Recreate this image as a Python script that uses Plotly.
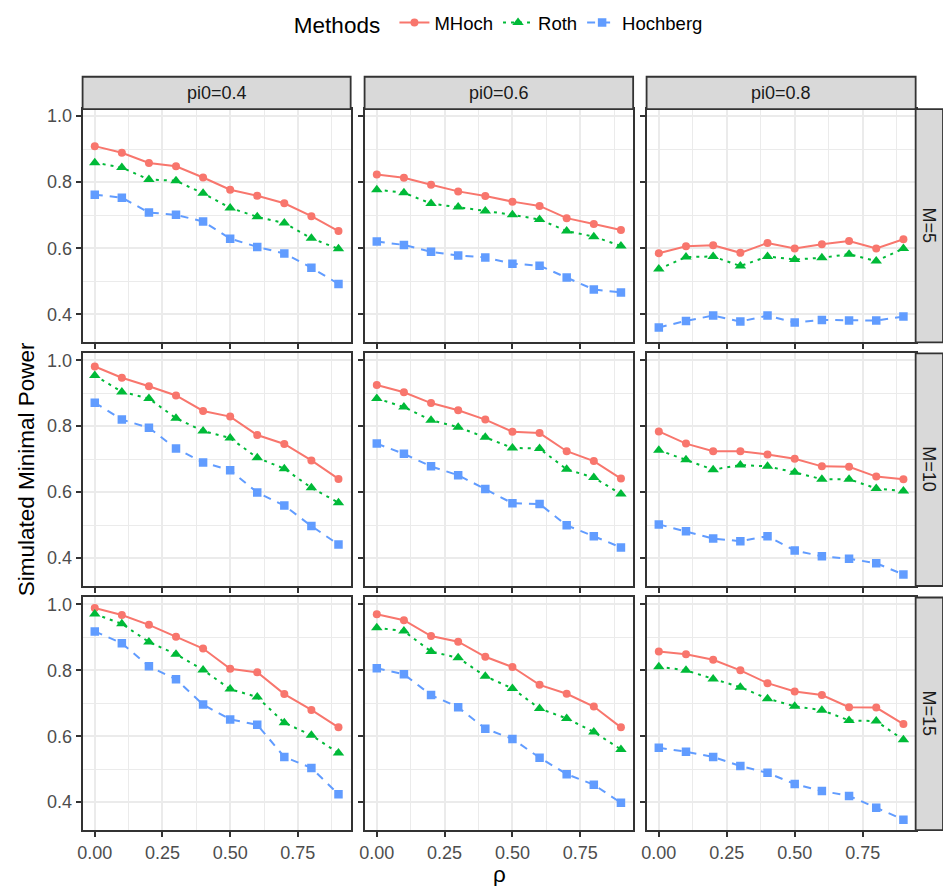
import plotly.graph_objects as go

# ---- data -----------------------------------------------------------------
rho = [0.0, 0.1, 0.2, 0.3, 0.4, 0.5, 0.6, 0.7, 0.8, 0.9]
pi0_labels = ["pi0=0.4", "pi0=0.6", "pi0=0.8"]
m_labels = ["M=5", "M=10", "M=15"]
methods = ["MHoch", "Roth", "Hochberg"]

# M = 5
mhoch_m5_p04 = [0.909, 0.889, 0.858, 0.848, 0.814, 0.777, 0.759, 0.736, 0.697, 0.652]
roth_m5_p04 = [0.859, 0.844, 0.808, 0.804, 0.766, 0.722, 0.695, 0.676, 0.630, 0.598]
hoch_m5_p04 = [0.762, 0.753, 0.708, 0.701, 0.681, 0.629, 0.604, 0.584, 0.541, 0.492]
mhoch_m5_p06 = [0.823, 0.813, 0.792, 0.772, 0.758, 0.741, 0.728, 0.691, 0.673, 0.655]
roth_m5_p06 = [0.777, 0.768, 0.735, 0.725, 0.713, 0.701, 0.687, 0.652, 0.635, 0.607]
hoch_m5_p06 = [0.620, 0.610, 0.589, 0.578, 0.572, 0.553, 0.547, 0.511, 0.475, 0.466]
mhoch_m5_p08 = [0.585, 0.606, 0.609, 0.586, 0.616, 0.599, 0.612, 0.622, 0.599, 0.627]
roth_m5_p08 = [0.537, 0.573, 0.575, 0.546, 0.575, 0.566, 0.571, 0.582, 0.561, 0.599]
hoch_m5_p08 = [0.360, 0.380, 0.396, 0.378, 0.396, 0.375, 0.383, 0.381, 0.381, 0.393]

# M = 10
mhoch_m10_p04 = [0.981, 0.947, 0.921, 0.893, 0.846, 0.829, 0.773, 0.746, 0.696, 0.640]
roth_m10_p04 = [0.954, 0.904, 0.884, 0.824, 0.785, 0.764, 0.704, 0.671, 0.613, 0.568]
hoch_m10_p04 = [0.871, 0.820, 0.795, 0.732, 0.690, 0.666, 0.599, 0.559, 0.497, 0.441]
mhoch_m10_p06 = [0.925, 0.903, 0.870, 0.848, 0.820, 0.783, 0.779, 0.724, 0.694, 0.641]
roth_m10_p06 = [0.884, 0.858, 0.818, 0.797, 0.766, 0.734, 0.732, 0.669, 0.644, 0.594]
hoch_m10_p06 = [0.747, 0.716, 0.678, 0.651, 0.609, 0.566, 0.564, 0.499, 0.466, 0.432]
mhoch_m10_p08 = [0.784, 0.747, 0.724, 0.724, 0.714, 0.701, 0.678, 0.677, 0.647, 0.639]
roth_m10_p08 = [0.727, 0.698, 0.668, 0.682, 0.678, 0.660, 0.639, 0.639, 0.611, 0.603]
hoch_m10_p08 = [0.502, 0.481, 0.459, 0.451, 0.466, 0.423, 0.405, 0.398, 0.384, 0.350]

# M = 15
mhoch_m15_p04 = [0.989, 0.968, 0.938, 0.902, 0.866, 0.805, 0.794, 0.728, 0.680, 0.627]
roth_m15_p04 = [0.971, 0.941, 0.886, 0.849, 0.801, 0.743, 0.719, 0.641, 0.603, 0.549]
hoch_m15_p04 = [0.918, 0.882, 0.812, 0.773, 0.696, 0.651, 0.635, 0.537, 0.504, 0.424]
mhoch_m15_p06 = [0.970, 0.952, 0.904, 0.887, 0.841, 0.810, 0.756, 0.729, 0.690, 0.627]
roth_m15_p06 = [0.929, 0.919, 0.857, 0.838, 0.782, 0.745, 0.684, 0.654, 0.613, 0.560]
hoch_m15_p06 = [0.806, 0.788, 0.725, 0.688, 0.623, 0.592, 0.535, 0.485, 0.453, 0.398]
mhoch_m15_p08 = [0.857, 0.849, 0.832, 0.800, 0.761, 0.736, 0.725, 0.688, 0.687, 0.637]
roth_m15_p08 = [0.811, 0.800, 0.774, 0.749, 0.714, 0.691, 0.679, 0.648, 0.646, 0.589]
hoch_m15_p08 = [0.565, 0.553, 0.537, 0.510, 0.489, 0.455, 0.434, 0.419, 0.383, 0.347]

panels = [
    [(mhoch_m5_p04, roth_m5_p04, hoch_m5_p04),
     (mhoch_m5_p06, roth_m5_p06, hoch_m5_p06),
     (mhoch_m5_p08, roth_m5_p08, hoch_m5_p08)],
    [(mhoch_m10_p04, roth_m10_p04, hoch_m10_p04),
     (mhoch_m10_p06, roth_m10_p06, hoch_m10_p06),
     (mhoch_m10_p08, roth_m10_p08, hoch_m10_p08)],
    [(mhoch_m15_p04, roth_m15_p04, hoch_m15_p04),
     (mhoch_m15_p06, roth_m15_p06, hoch_m15_p06),
     (mhoch_m15_p08, roth_m15_p08, hoch_m15_p08)],
]

# ---- styling ----------------------------------------------------------------
W, H = 943, 886
FONT = "Liberation Sans, Arial, Helvetica, sans-serif"
colors = ["#F8766D", "#00BA38", "#619CFF"]
dashes = ["solid", "3px,5px", "8px,7px"]
symbols = ["circle", "triangle-up", "square"]
msizes = [8, 10, 8.5]
TICK_SIZE = 18
TITLE_SIZE = 22.5

col_px = [(78, 347.5), (361.5, 631.5), (645, 915.5)]
row_px = [(106.5, 340.5), (351.5, 585), (596.5, 830)]
strip_top = (74, 106.5)
strip_right = (915.5, 943)

def px_x(v):
    return v / W

def px_y(v):
    return 1 - v / H

fig = go.Figure()
layout = {}

for r in range(3):
    for c in range(3):
        k = r * 3 + c + 1
        xname = "x" if k == 1 else f"x{k}"
        yname = "y" if k == 1 else f"y{k}"
        for mi, series in enumerate(panels[r][c]):
            fig.add_trace(go.Scatter(
                x=rho, y=series, xaxis=xname, yaxis=yname,
                mode="lines+markers", name=methods[mi],
                legendgroup=methods[mi], showlegend=(k == 1),
                line=dict(color=colors[mi], width=2, dash=dashes[mi]),
                marker=dict(symbol=symbols[mi], size=msizes[mi],
                            color=colors[mi], line=dict(width=0)),
            ))
        axis_common = dict(
            showline=True, mirror=True, linecolor="#333333", linewidth=1.8,
            showgrid=True, gridcolor="#EBEBEB", gridwidth=2, zeroline=False,
            ticks="outside", ticklen=5, tickcolor="#333333", tickwidth=1.5,
            tickfont=dict(family=FONT, size=TICK_SIZE, color="#4D4D4D"),
        )
        x0, x1 = col_px[c]
        y0, y1 = row_px[r]
        layout["xaxis" if k == 1 else f"xaxis{k}"] = dict(
            axis_common, domain=[px_x(x0), px_x(x1)], anchor=yname,
            range=[-0.045, 0.945], tick0=0, dtick=0.25, tickformat=".2f",
            showticklabels=(r == 2),
            minor=dict(showgrid=True, gridcolor="#EBEBEB", gridwidth=1,
                       tick0=0, dtick=0.125, ticks=""),
        )
        layout["yaxis" if k == 1 else f"yaxis{k}"] = dict(
            axis_common, domain=[px_y(y1), px_y(y0)], anchor=xname,
            range=[0.315, 1.021], tick0=0, dtick=0.2, tickformat=".1f",
            showticklabels=(c == 0),
            minor=dict(showgrid=True, gridcolor="#EBEBEB", gridwidth=1,
                       tick0=0, dtick=0.1, ticks=""),
        )

shapes = []
annotations = []
strip_font = dict(family=FONT, size=TICK_SIZE, color="#1A1A1A")
for c, lab in enumerate(pi0_labels):
    x0, x1 = col_px[c]
    shapes.append(dict(type="rect", xref="paper", yref="paper",
                       x0=px_x(x0), x1=px_x(x1),
                       y0=px_y(strip_top[1]), y1=px_y(strip_top[0]),
                       fillcolor="#D9D9D9", line=dict(color="#333333", width=1.8)))
    annotations.append(dict(text=lab, xref="paper", yref="paper",
                            x=px_x((x0 + x1) / 2), y=px_y(sum(strip_top) / 2),
                            showarrow=False, font=strip_font,
                            xanchor="center", yanchor="middle"))
for r, lab in enumerate(m_labels):
    y0, y1 = row_px[r]
    shapes.append(dict(type="rect", xref="paper", yref="paper",
                       x0=px_x(strip_right[0]), x1=px_x(strip_right[1]),
                       y0=px_y(y1), y1=px_y(y0),
                       fillcolor="#D9D9D9", line=dict(color="#333333", width=1.8)))
    annotations.append(dict(text=lab, xref="paper", yref="paper",
                            x=px_x(sum(strip_right) / 2), y=px_y((y0 + y1) / 2),
                            showarrow=False, font=strip_font, textangle=90,
                            xanchor="center", yanchor="middle"))

# axis titles
annotations.append(dict(text="Simulated Minimal Power", xref="paper", yref="paper",
                        x=px_x(22), y=px_y(468), showarrow=False, textangle=-90,
                        font=dict(family=FONT, size=TITLE_SIZE, color="black"),
                        xanchor="center", yanchor="middle"))
annotations.append(dict(text="ρ", xref="paper", yref="paper",
                        x=px_x(497), y=px_y(874), showarrow=False,
                        font=dict(family=FONT, size=TITLE_SIZE, color="black"),
                        xanchor="center", yanchor="middle"))

fig.update_layout(
    width=W, height=H,
    margin=dict(l=0, r=0, t=0, b=0),
    paper_bgcolor="white", plot_bgcolor="white",
    font=dict(family=FONT),
    shapes=shapes, annotations=annotations,
    legend=dict(
        orientation="h", x=px_x(497.5), xanchor="center", y=px_y(1), yanchor="top",
        title=dict(text="Methods ", side="left",
                   font=dict(family=FONT, size=TITLE_SIZE, color="black")),
        font=dict(family=FONT, size=18.5, color="black"),
        itemwidth=30, tracegroupgap=0, bgcolor="rgba(0,0,0,0)",
    ),
    **layout,
)

fig.write_html("out.html")
